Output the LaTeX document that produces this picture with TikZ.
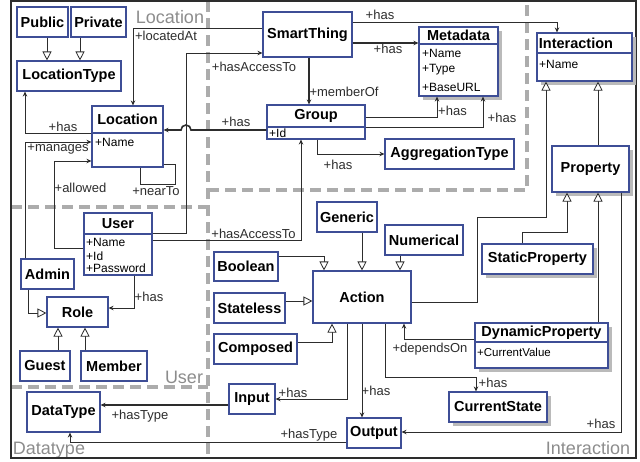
\documentclass[tikz,border=0pt]{standalone}
\usepackage{fontspec}
\setmainfont{Liberation Sans}
\usetikzlibrary{arrows.meta,shadows}

\definecolor{clsblue}{RGB}{62,78,150}
\definecolor{linegray}{RGB}{45,45,45}
\definecolor{zonegray}{RGB}{172,172,172}

\tikzset{
  cls/.style={draw=clsblue, line width=1.1pt, fill=white, inner sep=0pt,
    font=\fontsize{14.5}{16}\selectfont\bfseries},
  clsshadow/.style={cls, drop shadow={shadow xshift=3.5pt, shadow yshift=-3.5pt,
    fill=black!27, opacity=1}},
  clsname/.style={inner sep=0pt, font=\fontsize{14.5}{16}\selectfont\bfseries},
  clsline/.style={draw=clsblue, line width=1.1pt},
  attr/.style={anchor=west, inner sep=0pt, font=\fontsize{12}{14}\selectfont},
  lbl/.style={inner sep=0pt, text=linegray, font=\fontsize{13}{15}\selectfont},
  zone/.style={draw=zonegray, line width=4pt, dash pattern=on 11pt off 6pt},
  zonetext/.style={inner sep=0pt, text=black!45, font=\fontsize{18}{20}\selectfont},
  link/.style={draw=linegray, line width=0.8pt},
  assoc/.style={link, -{Stealth[length=5pt, width=4.5pt]}},
  strong/.style={assoc, line width=1.6pt},
  gen/.style={link, -{Triangle[open, length=9pt, width=9pt, fill=white]}}
}

\begin{document}
\begin{tikzpicture}[x=1pt, y=-1pt]
\useasboundingbox (0,0) rectangle (640,461);

% zones
\draw[zone] (208,1) -- (208,458);
\draw[zone] (11,207) -- (208,207);
\draw[zone] (208,190) -- (527,190) -- (527,1);
\draw[zone] (11,387) -- (208,387);
\node[zonetext] (zloc) at (170,17) {Location};
\node[zonetext] (zuser) at (184,377) {User};
\node[zonetext] (zdata) at (49,450) {Datatype};
\node[zonetext] (zint) at (588,448) {Interaction};
\draw[linegray, line width=1.4pt] (11,1) rectangle (636,458);

% location
\node[cls, minimum width=51pt, minimum height=30pt] (public) at (42.5,22) {Public};
\node[cls, minimum width=55pt, minimum height=30pt] (private) at (98.5,22) {Private};
\node[cls, minimum width=104pt, minimum height=30pt] (loctype) at (69,76) {LocationType};
\node[cls, minimum width=71pt, minimum height=61pt] (location) at (127.5,136.5) {};
\node[clsname] (location-n) at (127.5,119.5) {Location};
\draw[clsline] (92,133) -- (163,133);
\node[attr] (location-a) at (95,142) {+Name};
\node[cls, minimum width=89pt, minimum height=45pt] (smartthing) at (307.5,34.5) {SmartThing};
\node[clsshadow, minimum width=79pt, minimum height=69pt] (metadata) at (458.5,61.5) {};
\node[clsname] (metadata-n) at (458.5,35.5) {Metadata};
\draw[clsline] (419,44) -- (498,44);
\node[attr] (metadata-a) at (422,53) {+Name};
\node[attr] (metadata-b) at (422,70) {+Type};
\node[attr] (metadata-c) at (422,87) {+BaseURL};
\node[cls, minimum width=98pt, minimum height=34pt] (group) at (316,122) {};
\node[clsname] (group-n) at (316,116) {Group};
\draw[clsline] (267,127) -- (365,127);
\node[attr] (group-a) at (269,133) {+Id};
\node[cls, minimum width=129pt, minimum height=30pt] (aggtype) at (449.5,154) {AggregationType};

% user
\node[cls, minimum width=68pt, minimum height=62pt] (user) at (118,244) {};
\node[clsname] (user-n) at (118,223.5) {User};
\draw[clsline] (84,234) -- (152,234);
\node[attr] (user-a) at (86,242.5) {+Name};
\node[attr] (user-b) at (86,256) {+Id};
\node[attr] (user-c) at (86,268) {+Password};
\node[cls, minimum width=53pt, minimum height=30pt] (admin) at (47.5,274) {Admin};
\node[cls, minimum width=61pt, minimum height=30pt] (role) at (77.5,312) {Role};
\node[cls, minimum width=50pt, minimum height=30pt] (guest) at (45,366) {Guest};
\node[cls, minimum width=66pt, minimum height=30pt] (member) at (114,366) {Member};

% datatype
\node[cls, minimum width=73pt, minimum height=40pt] (datatype) at (63.5,412) {DataType};

% interaction
\node[clsshadow, minimum width=95pt, minimum height=48pt] (interaction) at (584.5,57) {};
\node[clsname] (interaction-n) at (576,43) {Interaction};
\draw[clsline] (537,53) -- (632,53);
\node[attr] (interaction-a) at (539,64) {+Name};
\node[clsshadow, minimum width=77pt, minimum height=46pt] (property) at (590.5,169) {Property};
\node[clsshadow, minimum width=111pt, minimum height=30pt] (staticprop) at (537.5,259) {StaticProperty};
\node[clsshadow, minimum width=133pt, minimum height=45pt] (dynprop) at (541.5,345.5) {};
\node[clsname] (dynprop-n) at (541.5,332.5) {DynamicProperty};
\draw[clsline] (475,342) -- (608,342);
\node[attr, font=\fontsize{11.5}{13}\selectfont] (dynprop-a) at (477,352) {+CurrentValue};
\node[clsshadow, minimum width=98pt, minimum height=30pt] (currstate) at (498,407) {CurrentState};
\node[cls, minimum width=60pt, minimum height=30pt] (generic) at (347,217) {Generic};
\node[cls, minimum width=78pt, minimum height=30pt] (numerical) at (424,240) {Numerical};
\node[cls, minimum width=64pt, minimum height=29pt] (boolean) at (246,266.5) {Boolean};
\node[cls, minimum width=71pt, minimum height=30pt] (stateless) at (249.5,308) {Stateless};
\node[cls, minimum width=83pt, minimum height=30pt] (composed) at (255.5,349) {Composed};
\node[cls, minimum width=98pt, minimum height=52pt] (action) at (362,297) {Action};
\node[cls, minimum width=46pt, minimum height=30pt] (input) at (252,399) {Input};
\node[cls, minimum width=54pt, minimum height=30pt] (output) at (374,433) {Output};

% generalisations
\draw[gen] (47,0 |- public.south) -- (47,0 |- loctype.north);
\draw[gen] (80,0 |- private.south) -- (80,0 |- loctype.north);
\draw[gen] (28,0 |- admin.south) -- (28,313) -- (role.west |- 0,313);
\draw[gen] (58,0 |- guest.north) -- (58,0 |- role.south);
\draw[gen] (85,0 |- member.north) -- (85,0 |- role.south);
\draw[gen] (362,0 |- generic.south) -- (362,0 |- action.north);
\draw[gen] (400,0 |- numerical.south) -- (400,0 |- action.north);
\draw[gen] (boolean.east |- 0,256) -- (324,256) -- (324,0 |- action.north);
\draw[gen] (stateless.east |- 0,301) -- (action.west |- 0,301);
\draw[gen] (composed.east |- 0,342) -- (332,342) -- (332,0 |- action.south);
\draw[gen] (action.east |- 0,302) -- (477,302) -- (477,217) -- (546,217) -- (546,0 |- interaction.south);
\draw[gen] (598,0 |- property.north) -- (598,0 |- interaction.south);
\draw[gen] (522,0 |- staticprop.north) -- (522,232) -- (567,232) -- (567,0 |- property.south);
\draw[gen] (598,0 |- dynprop.north) -- (598,0 |- property.south);

% associations
\draw[assoc] (location.west |- 0,133) -- (25,133) -- (25,0 |- loctype.south);
\draw[assoc] (smartthing.west |- 0,28) -- (133,28) -- (133,0 |- location.north);
\draw[assoc] (user.east |- 0,233) -- (186,233) -- (186,53) -- (smartthing.west |- 0,53);
\draw[assoc] (user.east |- 0,240) -- (301,240) -- (301,0 |- group.south);
\draw[strong] (309,0 |- smartthing.south) -- (309,0 |- group.north);
\draw[strong] (group.west |- 0,130) -- (191,130) arc[start angle=0, end angle=180, radius=5pt]
  -- (location.east |- 0,130);
\draw[strong] (smartthing.east |- 0,43) -- (metadata.west |- 0,43);
\draw[assoc] (smartthing.east |- 0,22) -- (557,22) -- (557,0 |- interaction.north);
\draw[assoc] (group.east |- 0,117) -- (437,117) -- (437,0 |- metadata.south);
\draw[assoc] (group.east |- 0,127) -- (483,127) -- (483,0 |- metadata.south);
\draw[assoc] (317,0 |- group.south) -- (317,154) -- (aggtype.west |- 0,154);
\draw[link] (140,0 |- location.south) -- (140,184) -- (175,184) -- (175,164) -- (location.east |- 0,164);
\draw[assoc] (25,0 |- admin.north) -- (25,142) -- (location.west |- 0,142);
\draw[assoc] (user.west |- 0,248) -- (54,248) -- (54,161) -- (location.west |- 0,161);
\draw[assoc] (134,0 |- user.south) -- (134,308) -- (role.east |- 0,308);
\draw[assoc] (621,0 |- property.south) -- (621,432) -- (output.east |- 0,432);
\draw[assoc] (dynprop.west |- 0,339) -- (404,339) -- (404,0 |- action.south);
\draw[assoc] (385,0 |- action.south) -- (385,377) -- (476,377) -- (476,0 |- currstate.north);
\draw[assoc] (347,0 |- action.south) -- (347,399) -- (input.east |- 0,399);
\draw[assoc] (362,0 |- action.south) -- (362,0 |- output.north);
\draw[strong] (input.west |- 0,405) -- (datatype.east |- 0,405);
\draw[assoc] (output.west |- 0,442) -- (70,442) -- (70,0 |- datatype.south);

% labels
\node[lbl] (l-has1) at (63,127) {+has};
\node[lbl] (l-located) at (166,36) {+locatedAt};
\node[lbl] (l-access1) at (254,67) {+hasAccessTo};
\node[lbl] (l-access2) at (253.5,234) {+hasAccessTo};
\node[lbl] (l-member) at (344,92) {+memberOf};
\node[lbl] (l-has2) at (236,122) {+has};
\node[lbl] (l-has3) at (388,49) {+has};
\node[lbl] (l-has4) at (380,15) {+has};
\node[lbl] (l-has5) at (452.5,111) {+has};
\node[lbl] (l-has6) at (502,118) {+has};
\node[lbl] (l-has7) at (338,165) {+has};
\node[lbl] (l-near) at (156,191) {+nearTo};
\node[lbl] (l-manages) at (58,149) {+manages};
\node[lbl] (l-allowed) at (80.5,188) {+allowed};
\node[lbl] (l-has8) at (149,297) {+has};
\node[lbl] (l-has9) at (601,424) {+has};
\node[lbl] (l-depends) at (430,349) {+dependsOn};
\node[lbl] (l-has10) at (493,383) {+has};
\node[lbl] (l-has11) at (293,393) {+has};
\node[lbl] (l-has12) at (376,391) {+has};
\node[lbl] (l-type1) at (140,416) {+hasType};
\node[lbl] (l-type2) at (309,435) {+hasType};
\end{tikzpicture}
\end{document}
